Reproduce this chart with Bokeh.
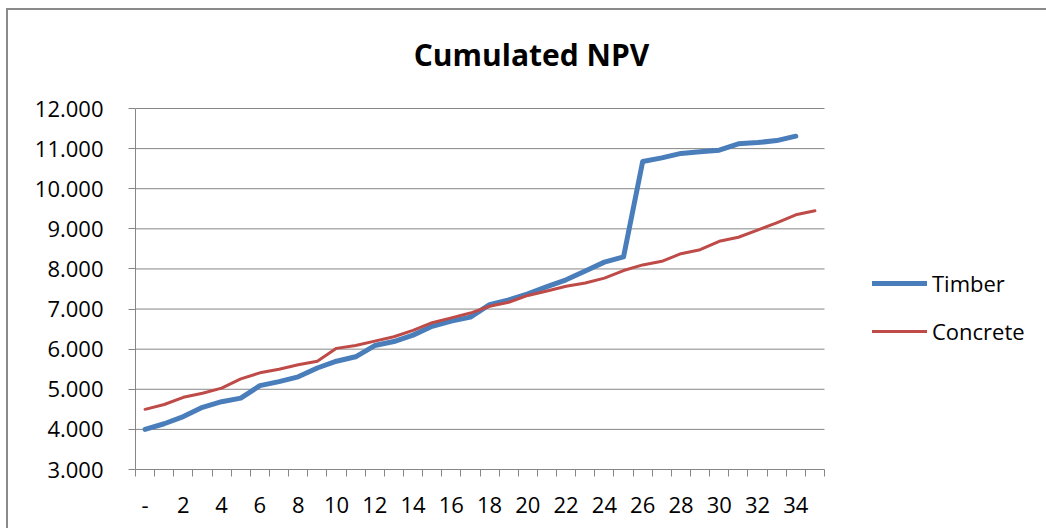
from bokeh.plotting import figure
from bokeh.models import (Range1d, FixedTicker, Legend, LegendItem, Label,
                          InlineStyleSheet)
from bokeh.embed import file_html
from bokeh.resources import INLINE

# ---- data -------------------------------------------------------------
periods_timber = list(range(35))
periods_concrete = list(range(36))
timber = [4000, 4140, 4320, 4550, 4690, 4780, 5090, 5190, 5310, 5530,
          5700, 5810, 6090, 6190, 6350, 6570, 6700, 6800, 7110, 7230,
          7380, 7560, 7730, 7950, 8170, 8300, 10680, 10770, 10880, 10920,
          10960, 11120, 11150, 11200, 11310]
concrete = [4500, 4620, 4800, 4900, 5030, 5260, 5410, 5500, 5610, 5700,
            6020, 6090, 6200, 6310, 6470, 6660, 6780, 6900, 7070, 7170,
            7340, 7450, 7570, 7650, 7770, 7960, 8100, 8190, 8380, 8480,
            8690, 8790, 8970, 9150, 9350, 9450]
x_tick_values = list(range(0, 35, 2))
x_tick_labels = ["-"] + [str(v) for v in range(2, 35, 2)]
y_tick_values = list(range(3000, 12001, 1000))
y_tick_labels = ["3.000", "4.000", "5.000", "6.000", "7.000", "8.000",
                 "9.000", "10.000", "11.000", "12.000"]
series_names = ["Timber", "Concrete"]
title_text = "Cumulated NPV"

# ---- layout / style ---------------------------------------------------
FONT = "Open Sans"
GRID = "#868686"
BLUE = "#4A7EBB"
RED = "#BE4B48"

X_MIN, X_MAX = -0.5, 35.5          # category band of the plot area
Y_MIN, Y_MAX = 3000, 12000
PLOT_W_PX, PLOT_H_PX = 689, 361    # plot-area size in pixels
LEFT_PX, BOTTOM_PX = 135, 59
W, H = 1046, 528
frame_w = W - LEFT_PX
frame_h = H - BOTTOM_PX
x_end = X_MIN + (X_MAX - X_MIN) * frame_w / PLOT_W_PX
y_end = Y_MIN + (Y_MAX - Y_MIN) * frame_h / PLOT_H_PX

p = figure(width=W, height=H, output_backend="svg", toolbar_location=None,
           x_range=Range1d(X_MIN, x_end), y_range=Range1d(Y_MIN, y_end),
           min_border_left=LEFT_PX, min_border_right=0,
           min_border_top=0, min_border_bottom=BOTTOM_PX)
p.title.visible = False
p.background_fill_color = "white"
p.border_fill_color = "white"
p.outline_line_color = None
p.xgrid.visible = False
p.ygrid.visible = False

# horizontal gridlines across the category band only
grid_y = y_tick_values[1:]
p.segment(x0=[X_MIN] * len(grid_y), x1=[X_MAX] * len(grid_y),
          y0=grid_y, y1=grid_y, line_color=GRID, line_width=1)

r1 = p.line(periods_timber, timber, line_color=BLUE, line_width=5,
            line_cap="round", line_join="round")
r2 = p.line(periods_concrete, concrete, line_color=RED, line_width=3,
            line_cap="round", line_join="round")

# x axis
xa = p.xaxis[0]
xa.bounds = (X_MIN, X_MAX)
xa.ticker = FixedTicker(ticks=x_tick_values,
                        minor_ticks=[i - 0.5 for i in range(37)])
xa.major_label_overrides = {v: l for v, l in zip(x_tick_values, x_tick_labels)}
xa.major_tick_out = 0
xa.major_tick_in = 0
xa.minor_tick_out = 7
xa.minor_tick_in = 0
xa.minor_tick_line_color = GRID
xa.axis_line_color = GRID
xa.major_label_standoff = 20
xa.major_label_text_font = FONT
xa.major_label_text_font_size = "22px"
xa.major_label_text_color = "black"

# y axis
ya = p.yaxis[0]
ya.bounds = (Y_MIN, Y_MAX)
ya.ticker = FixedTicker(ticks=y_tick_values, minor_ticks=[])
ya.major_label_overrides = {v: l for v, l in zip(y_tick_values, y_tick_labels)}
ya.major_tick_out = 7
ya.major_tick_in = 0
ya.major_tick_line_color = GRID
ya.minor_tick_line_color = None
ya.axis_line_color = GRID
ya.major_label_standoff = 25
ya.major_label_text_font = FONT
ya.major_label_text_font_size = "22px"
ya.major_label_text_color = "black"

# chart title
p.add_layout(Label(x=396, y=415, x_units="screen", y_units="screen",
                   text=title_text, text_align="center",
                   text_baseline="alphabetic", text_font=FONT,
                   text_font_style="bold", text_font_size="30px",
                   text_color="black"))

# legend
legend = Legend(items=[LegendItem(label=series_names[0], renderers=[r1]),
                       LegendItem(label=series_names[1], renderers=[r2])],
                location=(737, 123), glyph_width=55, glyph_height=30,
                label_height=30, spacing=18, padding=0, margin=0,
                label_standoff=5, border_line_alpha=0,
                background_fill_alpha=0, label_text_font=FONT,
                label_text_font_size="22px", label_text_color="black")
p.add_layout(legend)

# chart border (left and top) drawn with CSS on the figure host
p.stylesheets = [InlineStyleSheet(css=(
    ":host::after { content: ''; position: absolute; left: 6px; top: 8px;"
    " width: 1040px; height: 520px; border-left: 2px solid #8a8a8a;"
    " border-top: 2px solid #8a8a8a; box-sizing: border-box;"
    " pointer-events: none; z-index: 100; }"))]

open("out.html", "w").write(file_html(p, INLINE))
